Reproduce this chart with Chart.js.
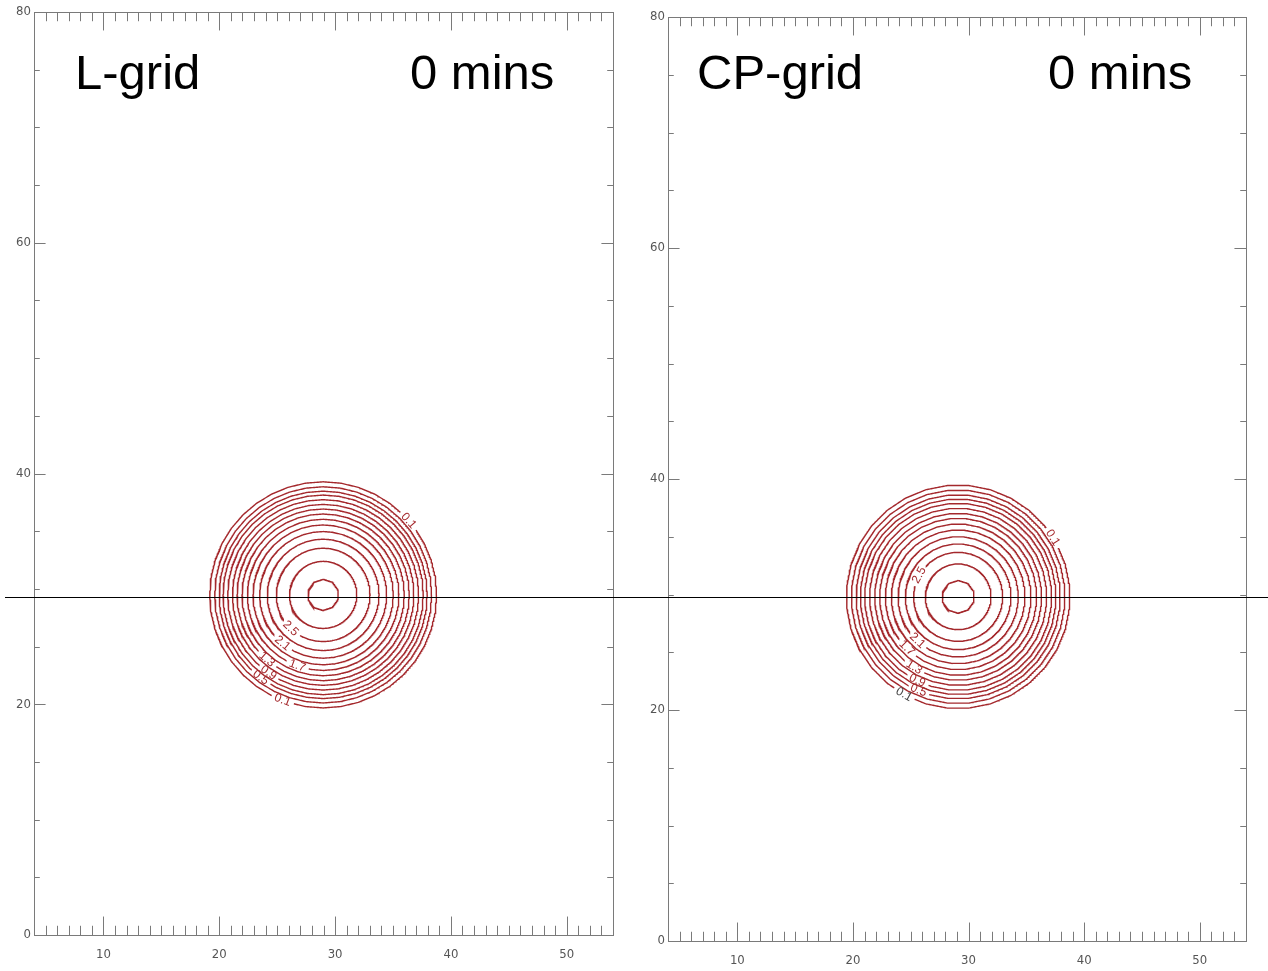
<!DOCTYPE html>
<html>
<head>
<meta charset="utf-8">
<title>L-grid / CP-grid</title>
<script src="https://cdn.jsdelivr.net/npm/chart.js@4.4.0/dist/chart.umd.min.js"></script>
<style>
  body { margin: 0; background: #fff; }
  #wrap { position: relative; width: 1268px; height: 971px; }
  .panel { position: absolute; top: 0; height: 971px; }
  #left { left: 0; width: 630px; }
  #right { left: 630px; width: 638px; }
</style>
</head>
<body>
<div id="wrap">
  <div class="panel" id="left"><canvas id="chartL"></canvas></div>
  <div class="panel" id="right"><canvas id="chartCP"></canvas></div>
</div>
<script>
// contour levels, outermost first
const levels = [0.1, 0.3, 0.5, 0.7, 0.9, 1.1, 1.3, 1.5, 1.7, 1.9, 2.1, 2.3, 2.5, 2.7, 2.9];

// radius of each contour (grid units) and the blob centre
const radiiL  = [9.80, 9.37, 8.99, 8.65, 8.25, 7.84, 7.44, 7.01, 6.55, 6.06, 5.49, 4.83, 4.05, 2.91, 1.35];
const radiiCP = [9.68, 9.25, 8.84, 8.47, 8.10, 7.67, 7.23, 6.80, 6.31, 5.79, 5.21, 4.58, 3.86, 2.85, 1.42];
const centreL  = [28.97, 29.48];
const centreCP = [29.10, 29.80];

// which contours carry a label, and where (degrees round the centre)
const labelLevelsL  = [0.1, 0.1, 0.5, 0.9, 1.3, 1.7, 2.1, 2.5];
const labelAnglesL  = [41, 249, 233, 235, 229, 250, 230, 226];
const labelLevelsCP = [0.1, 2.5, 2.1, 1.7, 1.3, 0.9, 0.5, 0.1];
const labelAnglesCP = [32, 151, 227, 225, 238, 244, 247, 241];

// cross-section line height
const sectionYL  = 29.3;
const sectionYCP = 29.8;

const xTickLabels = [10, 20, 30, 40, 50];
const yTickLabels = [0, 20, 40, 60, 80];

const RED = '#a4282c';
const AXIS = '#7a7a7a';
const tickFont = { family: "'Liberation Sans Narrow', 'DejaVu Sans Condensed', sans-serif", size: 13 };

function angDiff(a, b) {
  let d = Math.abs(a - b) % 360;
  return d > 180 ? 360 - d : d;
}

// radius of a regular polygon (vertex radius r) in direction a
function polyRadius(r, sides, rot, a) {
  const seg = 360 / sides;
  const t = (((a - rot) % seg) + seg) % seg - seg / 2;
  return r * Math.cos(Math.PI / sides) / Math.cos(t * Math.PI / 180);
}

function ringShape(p, i) {
  // innermost ring is a small ten-sided one, the rest use the panel's polygon
  return i === p.radii.length - 1 ? { sides: 10, rot: 90 } : { sides: p.sides, rot: p.rot };
}

function ringPoints(p, i) {
  const r = p.radii[i];
  const shape = ringShape(p, i);
  const gaps = [];
  p.labelLevels.forEach((lv, k) => {
    if (Math.abs(lv - levels[i]) < 1e-6) gaps.push({ angle: p.labelAngles[k], half: (1.0 / r) * 180 / Math.PI });
  });
  const pts = [];
  for (let a = 0; a <= 360; a += 0.5) {
    if (gaps.some(g => angDiff(a, g.angle) < g.half)) {
      pts.push({ x: null, y: null });
      continue;
    }
    const rho = polyRadius(r, shape.sides, shape.rot, a);
    pts.push({
      x: p.centre[0] + rho * Math.cos(a * Math.PI / 180),
      y: p.centre[1] + rho * Math.sin(a * Math.PI / 180)
    });
  }
  return pts;
}

function makeDecor(p) {
  return {
    id: 'decor',
    afterDatasetsDraw(chart) {
      const ctx = chart.ctx;
      const ca = chart.chartArea;
      const xs = chart.scales.x;
      const ys = chart.scales.y;
      ctx.save();

      // frame
      ctx.strokeStyle = AXIS;
      ctx.lineWidth = 1;
      ctx.strokeRect(Math.round(ca.left) + 0.5, Math.round(ca.top) + 0.5,
        Math.round(ca.right - ca.left), Math.round(ca.bottom - ca.top));

      // inward ticks on all four sides
      const xMajor = (ca.bottom - ca.top) * 0.02;
      const yMajor = (ca.right - ca.left) * 0.02;
      ctx.beginPath();
      for (let v = Math.ceil(xs.min); v <= xs.max; v++) {
        const x = Math.round(xs.getPixelForValue(v)) + 0.5;
        const len = v % 10 === 0 ? xMajor : xMajor / 2;
        ctx.moveTo(x, ca.bottom); ctx.lineTo(x, ca.bottom - len);
        ctx.moveTo(x, ca.top); ctx.lineTo(x, ca.top + len);
      }
      for (let v = ys.min; v <= ys.max; v += 5) {
        const y = Math.round(ys.getPixelForValue(v)) + 0.5;
        const len = v % 20 === 0 ? yMajor : yMajor / 2;
        ctx.moveTo(ca.left, y); ctx.lineTo(ca.left + len, y);
        ctx.moveTo(ca.right, y); ctx.lineTo(ca.right - len, y);
      }
      ctx.stroke();

      // contour labels sit in the gaps, turned along the curve
      ctx.font = "12px 'Liberation Sans', Arial, sans-serif";
      ctx.textAlign = 'center';
      ctx.textBaseline = 'middle';
      p.labelLevels.forEach((lv, k) => {
        const i = levels.findIndex(l => Math.abs(l - lv) < 1e-6);
        const shape = ringShape(p, i);
        const a = p.labelAngles[k];
        const rho = polyRadius(p.radii[i], shape.sides, shape.rot, a);
        const px = xs.getPixelForValue(p.centre[0] + rho * Math.cos(a * Math.PI / 180));
        const py = ys.getPixelForValue(p.centre[1] + rho * Math.sin(a * Math.PI / 180));
        let rot = 270 - a;
        while (rot > 90) rot -= 180;
        while (rot <= -90) rot += 180;
        ctx.save();
        ctx.translate(px, py);
        ctx.rotate(rot * Math.PI / 180);
        ctx.fillStyle = p.labelColours ? p.labelColours[k] : RED;
        ctx.fillText(lv.toFixed(1), 0, 0);
        ctx.restore();
      });

      // horizontal section line, runs past the frame
      const yLine = Math.round(ys.getPixelForValue(p.sectionY)) + 0.5;
      ctx.strokeStyle = '#000';
      ctx.lineWidth = 1.2;
      ctx.beginPath();
      ctx.moveTo(p.lineFrom, yLine);
      ctx.lineTo(chart.width, yLine);
      ctx.stroke();

      // panel captions
      ctx.fillStyle = '#000';
      ctx.font = "49px 'Liberation Sans', Arial, sans-serif";
      ctx.textAlign = 'left';
      ctx.textBaseline = 'alphabetic';
      ctx.fillText(p.title, p.titleX[0], 89);
      ctx.fillText('0 mins', p.titleX[1], 89);
      ctx.restore();
    }
  };
}

function buildPanel(p) {
  const datasets = p.radii.map((r, i) => ({
    label: levels[i].toFixed(1),
    data: ringPoints(p, i),
    showLine: true,
    spanGaps: false,
    borderColor: RED,
    borderWidth: 1.4,
    pointRadius: 0,
    tension: 0
  }));

  return new Chart(document.getElementById(p.canvas), {
    type: 'scatter',
    data: { datasets: datasets },
    options: {
      responsive: true,
      maintainAspectRatio: false,
      animation: false,
      layout: { padding: { top: p.padTop, right: p.padRight, left: 0, bottom: 0 } },
      plugins: { legend: { display: false }, tooltip: { enabled: false } },
      scales: {
        x: {
          type: 'linear',
          min: 4,
          max: 54,
          grid: { display: false, drawTicks: false },
          border: { display: false },
          afterBuildTicks: s => { s.ticks = xTickLabels.map(v => ({ value: v })); },
          afterFit: s => { s.height = p.axisH; },
          ticks: { color: '#555', font: tickFont, padding: p.labelPad, maxRotation: 0 }
        },
        y: {
          type: 'linear',
          min: 0,
          max: 80,
          grid: { display: false, drawTicks: false },
          border: { display: false },
          afterBuildTicks: s => { s.ticks = yTickLabels.map(v => ({ value: v })); },
          afterFit: s => { s.width = p.axisW; },
          ticks: { color: '#555', font: tickFont, padding: 3 }
        }
      }
    },
    plugins: [makeDecor(p)]
  });
}

buildPanel({
  canvas: 'chartL', title: 'L-grid',
  centre: centreL, radii: radiiL, sides: 40, rot: 0,
  labelLevels: labelLevelsL, labelAngles: labelAnglesL,
  sectionY: sectionYL, lineFrom: 5,
  padTop: 12, padRight: 17, axisW: 34, axisH: 36, labelPad: 12,
  titleX: [75, 410]
});

buildPanel({
  canvas: 'chartCP', title: 'CP-grid',
  centre: centreCP, radii: radiiCP, sides: 32, rot: 95.625,
  labelLevels: labelLevelsCP, labelAngles: labelAnglesCP,
  labelColours: [RED, RED, RED, RED, RED, RED, RED, '#444'],
  sectionY: sectionYCP, lineFrom: 0,
  padTop: 17, padRight: 22, axisW: 38, axisH: 30, labelPad: 12,
  titleX: [67, 418]
});
</script>
</body>
</html>
